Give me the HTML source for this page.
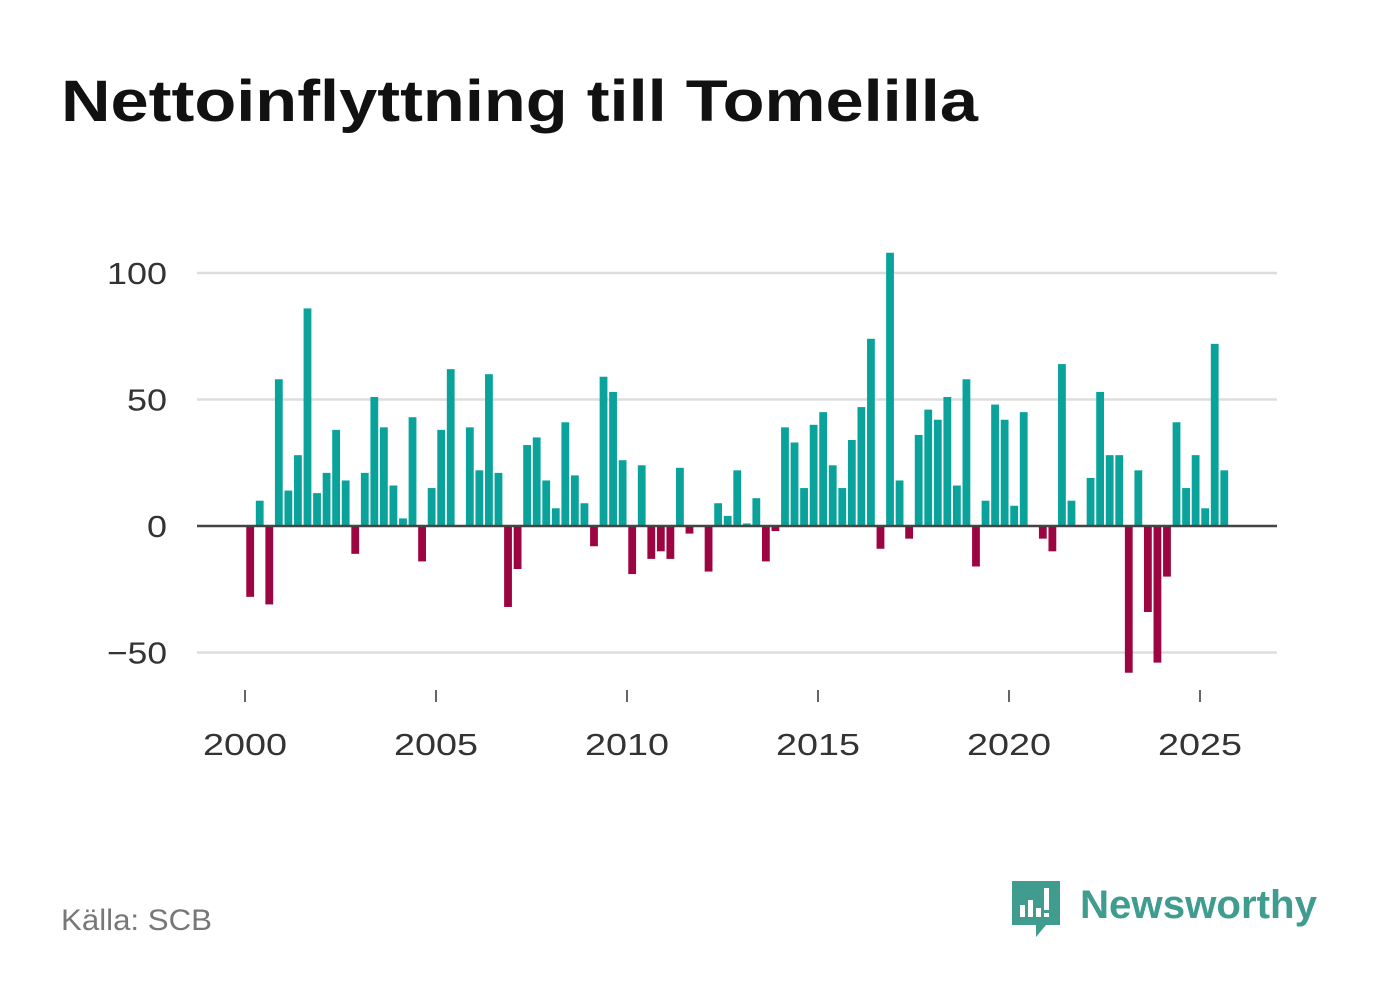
<!DOCTYPE html>
<html><head><meta charset="utf-8"><style>
body{margin:0;width:1382px;height:999px;background:#fff;font-family:"Liberation Sans",sans-serif;overflow:hidden}
</style></head><body>
<svg width="1382" height="999" xmlns="http://www.w3.org/2000/svg">
<text x="61" y="121" font-size="58" font-weight="bold" fill="#111" textLength="917" lengthAdjust="spacingAndGlyphs">Nettoinflyttning till Tomelilla</text>
<g id="grid"></g>
<g id="bars"></g>
<g id="xaxis"></g>
<text x="61" y="930" font-size="30" fill="#777" textLength="151" lengthAdjust="spacingAndGlyphs">Källa: SCB</text>
<g>
<path d="M1012 881 h48 v44 h-14 l-10 12 v-12 h-24 z" fill="#3f9c8f"/>
<rect x="1020" y="905" width="5" height="12" fill="#fff"/><rect x="1028" y="900" width="5" height="17" fill="#fff"/><rect x="1036" y="908" width="5" height="9" fill="#fff"/><rect x="1044" y="888" width="5" height="22" fill="#fff"/><rect x="1044" y="913" width="5" height="4" fill="#fff"/>
<text x="1080" y="918" font-size="40" font-weight="bold" fill="#3f9c8f" textLength="237" lengthAdjust="spacingAndGlyphs">Newsworthy</text>
</g>
</svg>
<script>
const values=[-28,10,-31,58,14,28,86,13,21,38,18,-11,21,51,39,16,3,43,-14,15,38,62,0,39,22,60,21,-32,-17,32,35,18,7,41,20,9,-8,59,53,26,-19,24,-13,-10,-13,23,-3,0,-18,9,4,22,1,11,-14,-2,39,33,15,40,45,24,15,34,47,74,-9,108,18,-5,36,46,42,51,16,58,-16,10,48,42,8,45,0,-5,-10,64,10,0,19,53,28,28,-58,22,-34,-54,-20,41,15,28,7,72,22];
const startYear=2000;
const yTicks=[-50,0,50,100];
const xTicks=[2000,2005,2010,2015,2020,2025];
const NS="http://www.w3.org/2000/svg";
const y=v=>526-v*2.53;
const x=yr=>245+(yr-2000)*38.2;
function mk(t,a,p){const e=document.createElementNS(NS,t);for(const k in a)e.setAttribute(k,a[k]);p.appendChild(e);return e;}
const grid=document.getElementById('grid'),bars=document.getElementById('bars'),xa=document.getElementById('xaxis');
yTicks.forEach(t=>{
  const l=mk('line',{x1:197,x2:1277,y1:y(t),y2:y(t),stroke:t===0?'#444':'#ddd','stroke-width':2.5},grid);
  
  
  const s=t<0?'\u2212'+(-t):String(t);
  const tx=mk('text',{x:167,y:y(t)+11,'font-size':31,fill:'#333','text-anchor':'end',textLength:s.length*20,lengthAdjust:'spacingAndGlyphs'},grid);
  tx.textContent=s;
  
  
});
values.forEach((v,i)=>{
  const cx=x(startYear+(i+0.5)/4);
  const r=mk('rect',{x:cx-3.5,width:7.8,y:Math.min(y(v),y(0)),height:Math.abs(y(v)-y(0)),fill:v>=0?'#0aa39b':'#9c0541'},bars);
  
  
});
bars.appendChild(grid.children[2]);
xTicks.forEach(t=>{
  const l=mk('line',{x1:x(t),x2:x(t),y1:690,y2:702,stroke:'#333','stroke-width':1.5},xa);
  
  
  const tx=mk('text',{x:x(t),y:755,'font-size':31,fill:'#333','text-anchor':'middle',textLength:84,lengthAdjust:'spacingAndGlyphs'},xa);
  tx.textContent=t;
  
  
});
</script>
</body></html>
